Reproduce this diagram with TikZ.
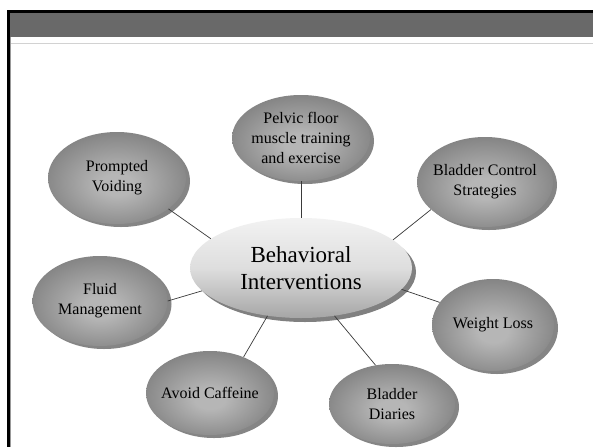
\documentclass[tikz,border=0pt]{standalone}
\usepackage{fontspec}
\setmainfont{Liberation Serif}
\usetikzlibrary{shapes.geometric,shadows}
\definecolor{bardark}{HTML}{696969}
\definecolor{rulegray}{HTML}{D2D2D2}
\definecolor{ballin}{HTML}{B6B6B6}
\definecolor{ballout}{HTML}{4E4E4E}
\definecolor{shadowgray}{HTML}{858585}
\definecolor{linkgray}{HTML}{3A3A3A}
\pgfdeclareradialshading{smallball}{\pgfpoint{0bp}{-4bp}}{%
  color(0bp)=(ballin); color(6bp)=(ballin); color(50bp)=(ballout)}
\tikzset{
  bubble/.style={ellipse, inner sep=-4pt, shading=smallball,
    drop shadow={shadow xshift=4pt, shadow yshift=-3pt, fill=shadowgray, opacity=1},
    font=\fontsize{16}{20}\selectfont, align=center, text=black},
  hub/.style={ellipse, inner sep=0pt, top color=white!95!black, bottom color=black!35,
    middle color=black!13,
    drop shadow={shadow xshift=4pt, shadow yshift=-4pt, fill=black!50, opacity=1},
    font=\fontsize{23}{27}\selectfont, align=center, text=black},
  link/.style={draw=linkgray, line width=0.7pt}
}
\begin{document}
\begin{tikzpicture}[x=1pt,y=-1pt]
\useasboundingbox (0,0) rectangle (593,447);
\fill[white] (0,0) rectangle (593,447);
% frame
\fill[bardark] (10,13) rectangle (593,37);
\fill[black] (7,10) rectangle (593,13);
\fill[black] (7,10) rectangle (10,447);
\draw[rulegray, line width=0.8pt] (10,43.5) -- (593,43.5);
\draw[black!40, line width=0.6pt] (10.6,37) -- (10.6,447);
% nodes
\node[hub, minimum width=222pt, minimum height=100pt] (bi) at (301,268) {Behavioral\\Interventions};
\node[bubble, minimum width=138pt, minimum height=86pt] (pf) at (301,138) {Pelvic floor\\muscle training\\and exercise};
\node[bubble, minimum width=138pt, minimum height=92pt] (pv) at (117,178) {Prompted\\Voiding};
\node[bubble, minimum width=136pt, minimum height=90pt] (bc) at (485,182) {Bladder Control\\Strategies};
\node[bubble, minimum width=135pt, minimum height=90pt] (fm) at (100,301) {Fluid\\Management};
\node[bubble, minimum width=122pt, minimum height=92pt] (wl) at (493,325) {Weight Loss};
\node[bubble, minimum width=128pt, minimum height=84pt] (ac) at (210,393) {Avoid Caffeine};
\node[bubble, minimum width=126pt, minimum height=80pt] (bd) at (392,404) {Bladder\\Diaries};
% connectors
\draw[link] (pf.-90) -- (bi.90);
\draw[link] (pv.-31) -- (bi.162);
\draw[link] (bc.207) -- (bi.17);
\draw[link] (fm.0) -- (bi.193);
\draw[link] (wl.157) -- (bi.-12);
\draw[link] (ac.47) -- (bi.235);
\draw[link] (bd.113) -- (bi.-55);
\end{tikzpicture}
\end{document}
